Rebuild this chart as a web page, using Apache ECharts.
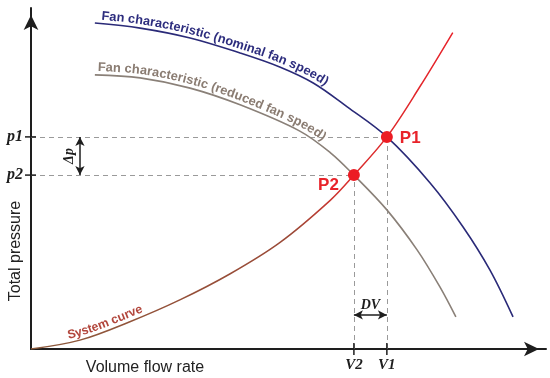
<!DOCTYPE html>
<html><head><meta charset="utf-8">
<script src="https://cdn.jsdelivr.net/npm/echarts@6/dist/echarts.min.js"></script>
<style>html,body{margin:0;padding:0;background:#fff}#c{width:550px;height:378px}</style>
</head><body><div id="c"></div>
<script>
// ---- data (arbitrary units, x: volume flow 0..100, y: total pressure 0..100) ----
const systemCurve = [[0,0],[9.5,2.6],[19.2,8.0],[28.9,14.4],[38.6,22.0],[48.3,31.2],[58.1,43.6],[62.7,51.0],[69.1,62.2],[75.5,76.9],[81.9,92.8]];
const fanNominal = [[12.4,95.6],[21.2,94.1],[30.9,91.2],[40.6,86.8],[48.3,82.7],[54.8,78.0],[61.4,71.0],[69.1,62.2],[77.5,48.7],[83.9,35.8],[89.1,23.2],[93.6,9.4]];
const fanReduced = [[12.4,80.4],[21.2,79.5],[30.9,76.5],[40.6,71.6],[52.2,63.9],[58.1,57.6],[62.7,51.0],[69.1,40.8],[75.0,29.0],[79.4,18.2],[82.5,9.4]];
const operatingPoints = [['P1',69.1,62.2],['P2',62.7,51.0]];
const pressureTicks = [['p1',62.2],['p2',51.0]];
const flowTicks = [['V2',62.7],['V1',69.1]];
const deltaPAt = 9.5;   // x position of Δp arrow
const deltaVAt = 10.0;  // y position of DV arrow
const curveTexts = [
  {text:'Fan characteristic (nominal fan speed)', curve:'nominal', from:13.4, to:56.5, color:'#2d2d7e'},
  {text:'Fan characteristic (reduced fan speed)', curve:'reduced', from:12.8, to:55.7, color:'#8a7c72'},
  {text:'System curve', curve:'system', from:6.6, to:21.7, color:'#b2463c'}
];

const chart = echarts.init(document.getElementById('c'), null, {renderer:'canvas'});
const dashed = {color:'#9a9a9a', type:[5,4], width:1};
const axisCommon = {
  type:'value', min:0, max:100,
  axisLine:{show:true, onZero:false, symbol:['none','arrow'], symbolSize:[11,15], symbolOffset:[0,-7],
    lineStyle:{color:'#1e1e1e', width:2}},
  axisTick:{show:false}, axisLabel:{show:false}, splitLine:{show:false}
};
const P1 = operatingPoints[0], P2 = operatingPoints[1];
const option = {
  animation:false,
  backgroundColor:'#fff',
  grid:{left:31, right:4, top:8, bottom:29},
  xAxis:Object.assign({}, axisCommon),
  yAxis:Object.assign({}, axisCommon),
  series:[
    {type:'line', name:'nominal', data:fanNominal, smooth:0.35, symbol:'none',
     lineStyle:{color:'#2a2a78', width:1.6}, z:3},
    {type:'line', name:'reduced', data:fanReduced, smooth:0.35, symbol:'none',
     lineStyle:{color:'#8a8078', width:1.6}, z:3},
    {type:'line', name:'system', data:systemCurve, smooth:0.35, symbol:'none',
     lineStyle:{width:1.5, color:new echarts.graphic.LinearGradient(0,0,1,0,[
       {offset:0,color:'#8b5a3c'},{offset:0.62,color:'#9c4a38'},{offset:0.74,color:'#d8302e'},{offset:1,color:'#e8222a'}])}, z:4,
     markLine:{silent:true, symbol:['none','none'], label:{show:false}, lineStyle:dashed, z:1,
       data:[
         [{coord:[0,P1[2]]},{coord:[P1[1],P1[2]]}],
         [{coord:[0,P2[2]]},{coord:[P2[1],P2[2]]}],
         [{coord:[P1[1],0]},{coord:[P1[1],P1[2]]}],
         [{coord:[P2[1],0]},{coord:[P2[1],P2[2]]}]
       ]}},
    {type:'line', data:[], markLine:{silent:true, symbol:['arrow','arrow'], symbolSize:[7,9], label:{show:false},
       lineStyle:{color:'#1e1e1e', type:'solid', width:1.5},
       data:[
         [{coord:[deltaPAt,pressureTicks[0][1]]},{coord:[deltaPAt,pressureTicks[1][1]]}],
         [{coord:[flowTicks[0][1],deltaVAt]},{coord:[flowTicks[1][1],deltaVAt]}]
       ]}},
    {type:'scatter', data:operatingPoints.map(p=>({name:p[0], value:[p[1],p[2]]})), symbolSize:12,
     itemStyle:{color:'#ec1c24', opacity:1}, z:6,
     label:{show:true, formatter:'{b}', fontFamily:'Liberation Sans, Arial', fontWeight:'bold', fontSize:17, color:'#e8232a'}}
  ]
};
option.series[4].data[0].label = {position:'right', distance:7, offset:[0,1]};
option.series[4].data[1].label = {position:'left', distance:9, offset:[0,10]};
chart.setOption(option);

// ---- overlay texts computed from data via the chart's scales ----
const toPx = p => chart.convertToPixel({gridIndex:0}, p);
const curves = {nominal:fanNominal, reduced:fanReduced, system:systemCurve};
function densify(px){
  const out=[];
  for(let i=0;i<px.length-1;i++){
    const p0=px[Math.max(0,i-1)],p1=px[i],p2=px[i+1],p3=px[Math.min(px.length-1,i+2)];
    for(let k=0;k<10;k++){
      const t=k/10,t2=t*t,t3=t2*t;
      const f=j=>0.5*((2*p1[j])+(-p0[j]+p2[j])*t+(2*p0[j]-5*p1[j]+4*p2[j]-p3[j])*t2+(-p0[j]+3*p1[j]-3*p2[j]+p3[j])*t3);
      out.push([f(0),f(1)]);
    }
  }
  out.push(px[px.length-1]);
  return out;
}
const ctx = document.createElement('canvas').getContext('2d');
const graphics = [];
curveTexts.forEach(ct=>{
  const path = densify(curves[ct.curve].map(toPx));
  const cum=[0];
  for(let i=1;i<path.length;i++) cum.push(cum[i-1]+Math.hypot(path[i][0]-path[i-1][0],path[i][1]-path[i-1][1]));
  const sAtX = x=>{ for(let i=0;i<path.length;i++){ if(path[i][0]>=x) return cum[i]; } return cum[cum.length-1]; };
  const x0 = toPx([ct.from,0])[0], x1 = toPx([ct.to,0])[0];
  const s0 = sAtX(x0), s1 = sAtX(x1);
  let fs = 12;
  ctx.font = 'bold '+fs+'px "Liberation Sans"';
  const natural = ctx.measureText(ct.text).width;
  fs = Math.max(9, Math.min(14, fs*(s1-s0)/natural));
  const font = 'bold '+fs.toFixed(2)+'px "Liberation Sans"';
  ctx.font = font;
  let s = s0;
  for(const ch of ct.text){
    const w = ctx.measureText(ch).width;
    const sc = s + w/2;
    let i=1; while(i<cum.length-1 && cum[i]<sc) i++;
    const a=path[i-1], b=path[i];
    const t=(sc-cum[i-1])/((cum[i]-cum[i-1])||1);
    const x=a[0]+(b[0]-a[0])*t, y=a[1]+(b[1]-a[1])*t;
    const len=Math.hypot(b[0]-a[0],b[1]-a[1])||1;
    const tx=(b[0]-a[0])/len, ty=(b[1]-a[1])/len;
    const off=7.5;
    graphics.push({type:'text', silent:true, x:x+ty*off, y:y-tx*off, rotation:-Math.atan2(ty,tx), z:10,
      style:{text:ch, font:font, fill:ct.color, align:'center', verticalAlign:'middle', textAlign:'center', textVerticalAlign:'middle'}});
    s += w;
  }
});
// ticks and tick labels
pressureTicks.forEach(([lab,v])=>{
  const p = toPx([0,v]);
  graphics.push({type:'line', silent:true, shape:{x1:p[0]-6,y1:p[1],x2:p[0]+5,y2:p[1]}, style:{stroke:'#1e1e1e', lineWidth:1.5}, z:10});
  graphics.push({type:'text', silent:true, x:p[0]-8, y:p[1], z:10,
    style:{text:lab, font:'italic bold 16px "Liberation Serif"', fill:'#1e1e1e', align:'right', verticalAlign:'middle', textAlign:'right', textVerticalAlign:'middle'}});
});
flowTicks.forEach(([lab,v])=>{
  const p = toPx([v,0]);
  graphics.push({type:'line', silent:true, shape:{x1:p[0],y1:p[1]-6,x2:p[0],y2:p[1]+6}, style:{stroke:'#1e1e1e', lineWidth:1.5}, z:10});
  graphics.push({type:'text', silent:true, x:p[0], y:p[1]+16, z:10,
    style:{text:lab, font:'italic bold 15px "Liberation Serif"', fill:'#1e1e1e', align:'center', verticalAlign:'middle', textAlign:'center', textVerticalAlign:'middle'}});
});
// Δp and DV labels
const dp = toPx([deltaPAt,(pressureTicks[0][1]+pressureTicks[1][1])/2]);
graphics.push({type:'text', silent:true, x:dp[0]-11, y:dp[1], rotation:Math.PI/2, z:10,
  style:{text:'Δp', font:'italic bold 14px "Liberation Serif"', fill:'#1e1e1e', align:'center', verticalAlign:'middle', textAlign:'center', textVerticalAlign:'middle'}});
const dv = toPx([(flowTicks[0][1]+flowTicks[1][1])/2, deltaVAt]);
graphics.push({type:'text', silent:true, x:dv[0], y:dv[1]-10, z:10,
  style:{text:'DV', font:'italic bold 14px "Liberation Serif"', fill:'#1e1e1e', align:'center', verticalAlign:'middle', textAlign:'center', textVerticalAlign:'middle'}});
// axis titles
graphics.push({type:'text', silent:true, x:16, y:251, rotation:Math.PI/2, z:10,
  style:{text:'Total pressure', font:'16px "Liberation Sans"', fill:'#222', align:'center', verticalAlign:'middle', textAlign:'center', textVerticalAlign:'middle'}});
graphics.push({type:'text', silent:true, x:145, y:368, z:10,
  style:{text:'Volume flow rate', font:'16px "Liberation Sans"', fill:'#222', align:'center', verticalAlign:'middle', textAlign:'center', textVerticalAlign:'middle'}});
chart.setOption({graphic:graphics});
</script>
</body></html>
